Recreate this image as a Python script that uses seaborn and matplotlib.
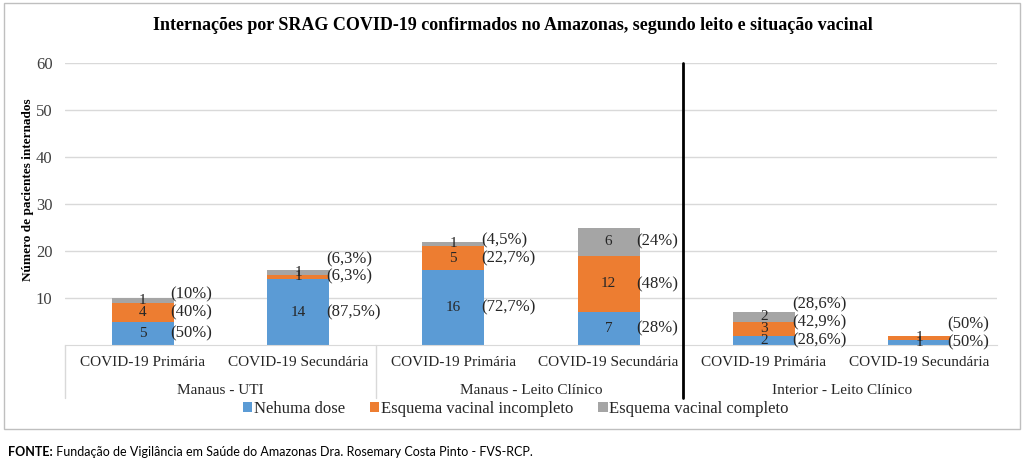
import numpy as np
import pandas as pd
import matplotlib
matplotlib.use("Agg")
import matplotlib.pyplot as plt
import seaborn as sns
from matplotlib.patches import Patch, Rectangle
from decimal import Decimal, ROUND_HALF_UP

# ---------------- data ----------------
groups = ["Manaus - UTI", "Manaus - Leito Clínico", "Interior - Leito Clínico"]
categories = ["COVID-19 Primária", "COVID-19 Secundária"]
series_names = ["Nehuma dose", "Esquema vacinal incompleto", "Esquema vacinal completo"]
nenhuma = [5, 14, 16, 7, 2, 1]
incompleto = [4, 1, 5, 12, 3, 1]
completo = [1, 1, 1, 6, 2, 0]
y_ticks = [10, 20, 30, 40, 50, 60]
title = "Internações por SRAG COVID-19 confirmados no Amazonas, segundo leito e situação vacinal"
ylabel = "Número de pacientes internados"
source_bold = "FONTE:"
source_text = " Fundação de Vigilância em Saúde do Amazonas Dra. Rosemary Costa Pinto - FVS-RCP."

colors = ["#5B9BD5", "#ED7D31", "#A5A5A5"]

sns.set_style("white")
plt.rcParams["font.family"] = ["Liberation Serif", "DejaVu Serif"]

keys = [f"{g}|{c}" for g in groups for c in categories]
tick_labels = [c for g in groups for c in categories]
series = [np.array(nenhuma), np.array(incompleto), np.array(completo)]
cum = np.cumsum(np.vstack(series), axis=0)
totals = cum[-1]

W, H = 1024, 463
fig = plt.figure(figsize=(W / 100, H / 100), dpi=100)
ax = fig.add_axes([65 / W, 1 - 345 / H, (997 - 65) / W, (345 - 63) / H])

# stacked bars: draw cumulative totals from top layer down
for level in [2, 1, 0]:
    df = pd.DataFrame({"k": keys, "v": cum[level]})
    sns.barplot(data=df, x="k", y="v", order=keys, color=colors[level],
                saturation=1, width=0.4, ax=ax, linewidth=0, errorbar=None)

ax.set_xlim(-0.5, len(keys) - 0.5)
ax.set_ylim(0, 60)
ax.set_yticks(y_ticks)
ax.set_yticklabels([str(t) for t in y_ticks], fontsize=12, color="#404040")
ax.yaxis.grid(True, color="#d9d9d9", lw=1)
ax.set_axisbelow(True)
for s in ["left", "right", "top"]:
    ax.spines[s].set_visible(False)
ax.spines["bottom"].set_color("#d9d9d9")
ax.tick_params(axis="y", length=0, pad=9)
ax.set_xticks(range(len(keys)))
ax.set_xticklabels(tick_labels, fontsize=11, color="#262626")
ax.tick_params(axis="x", length=0, pad=8)
ax.set_xlabel("")
ax.set_ylabel("")

# group labels and separators
trans = matplotlib.transforms.blended_transform_factory(ax.transData, ax.transAxes)
ncat = len(categories)
for gi, g in enumerate(groups):
    ax.text(gi * ncat + (ncat - 1) / 2, -0.16, g, transform=trans, ha="center",
            va="center", fontsize=11, color="#262626")
for gi in range(len(groups)):
    xb = gi * ncat - 0.5
    if gi == 2:
        ax.plot([xb - 0.02, xb - 0.02], [1.0, -0.188], transform=trans, color="black",
                lw=2, clip_on=False, zorder=5)
    else:
        ax.plot([xb, xb], [0, -0.188], transform=trans, color="#d9d9d9", lw=1,
                clip_on=False)


def fmt_pct(v, tot):
    d = (Decimal(int(v)) * 100 / Decimal(int(tot))).quantize(Decimal("0.1"), rounding=ROUND_HALF_UP)
    s = f"{d}"
    if s.endswith(".0"):
        s = s[:-2]
    return "(" + s.replace(".", ",") + "%)"


# value and percentage labels
gap = 3.8
for i in range(len(keys)):
    prev = -10
    for j in range(3):
        v = int(series[j][i])
        if v <= 0:
            continue
        bottom = cum[j][i] - v
        yc = bottom + v / 2
        ax.text(i, yc, str(v), ha="center", va="center", fontsize=11, color="#262626")
        yp = max(yc, prev + gap)
        prev = yp
        ax.text(i + 0.2 - 0.02, yp, fmt_pct(v, totals[i]), ha="left", va="center",
                fontsize=12, color="#262626")

# title and y label
fig.text(513 / W, 1 - 25 / H, title, ha="center", va="center", fontsize=13,
         fontweight="bold", color="black")
fig.text(28 / W, 1 - 190 / H, ylabel, ha="center", va="center", rotation=90,
         fontsize=9.5, fontweight="bold", color="black")

# legend
handles = [Patch(facecolor=c, edgecolor="none") for c in colors]
fig.legend(handles, series_names, loc="center", bbox_to_anchor=(516 / W, 1 - 409 / H),
           ncol=3, frameon=False, fontsize=12, handlelength=0.55, handleheight=0.55,
           handletextpad=0.1, columnspacing=1.5, labelcolor="#262626")

# chart frame
fig.add_artist(Rectangle((4 / W, 1 - 429 / H), (1020 - 4) / W, (429 - 3) / H,
                         transform=fig.transFigure, fill=False, edgecolor="#bfbfbf", lw=1))

# footnote
t1 = fig.text(8 / W, 1 - 452 / H, source_bold, ha="left", va="center", fontsize=9,
              fontweight="bold", family=["Lato", "DejaVu Sans"], color="black")
ax.annotate(source_text, xy=(1, 0.5), xycoords=t1, ha="left", va="center",
            fontsize=9, family=["Lato", "DejaVu Sans"], color="black",
            annotation_clip=False)

fig.savefig("out.png", dpi=100)
